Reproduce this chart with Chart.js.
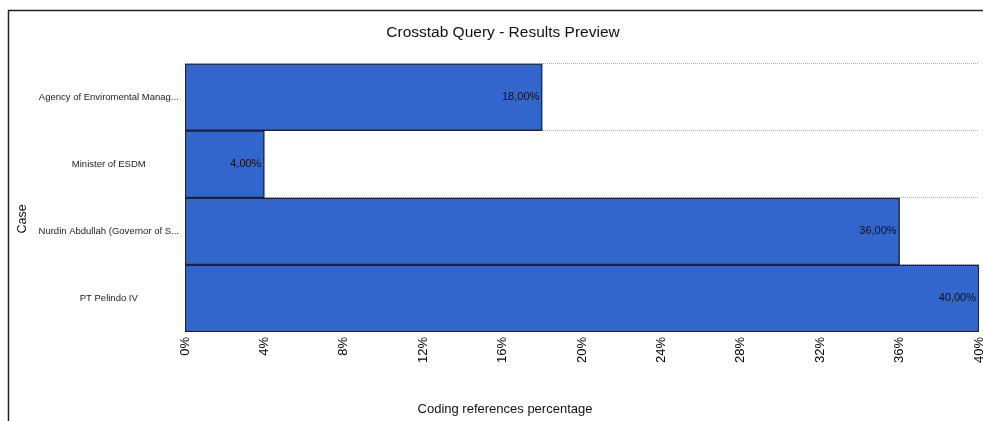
<!DOCTYPE html>
<html>
<head>
<meta charset="utf-8">
<script src="https://cdn.jsdelivr.net/npm/chart.js@4.4.0/dist/chart.umd.min.js"></script>
<style>
  html, body { margin: 0; padding: 0; background: #fff; }
  canvas { display: block; }
</style>
</head>
<body>
<canvas id="crosstabChart" width="983" height="421"></canvas>
<script>
const caseLabels = [
    'Agency of Enviromental Manag...',
    'Minister of ESDM',
    'Nurdin Abdullah (Governor of S...',
    'PT Pelindo IV'
];
const codingPercent = [18, 4, 36, 40];
const xTicksMax = 40;
const xTicksStep = 4;
const xAxisTitle = 'Coding references percentage';
const yAxisTitle = 'Case';

const FONT = "'Liberation Sans', Arial, sans-serif";

// outer frame, white background and the two axis titles
// (drawn by hand because they are centred on the frame, not the plot)
const framePlugin = {
    id: 'frame',
    beforeDraw(chart) {
        const ctx = chart.ctx;
        ctx.save();
        ctx.fillStyle = '#fff';
        ctx.fillRect(0, 0, chart.width, chart.height);
        ctx.strokeStyle = '#222';
        ctx.lineWidth = 1.5;
        ctx.beginPath();
        ctx.moveTo(8.5, chart.height);
        ctx.lineTo(8.5, 10.5);
        ctx.lineTo(chart.width, 10.5);
        ctx.stroke();
        ctx.restore();
    },
    afterDraw(chart) {
        const ctx = chart.ctx;
        ctx.save();
        ctx.fillStyle = '#111';
        ctx.textAlign = 'center';
        ctx.textBaseline = 'middle';
        ctx.font = '13px ' + FONT;
        ctx.fillText(xAxisTitle, 505, 409);
        ctx.translate(23, 219);
        ctx.rotate(-Math.PI / 2);
        ctx.font = '12.5px ' + FONT;
        ctx.fillText(yAxisTitle, 0, 0);
        ctx.restore();
    }
};

// value labels at the inner end of each bar
const valueLabels = {
    id: 'valueLabels',
    afterDatasetsDraw(chart) {
        const ctx = chart.ctx;
        const meta = chart.getDatasetMeta(0);
        ctx.save();
        ctx.font = '11px ' + FONT;
        ctx.fillStyle = '#111';
        ctx.textAlign = 'right';
        ctx.textBaseline = 'middle';
        meta.data.forEach((bar, i) => {
            const v = chart.data.datasets[0].data[i];
            const txt = v.toFixed(2).replace('.', ',') + '%';
            ctx.fillText(txt, bar.x - 3, bar.y);
        });
        ctx.restore();
    }
};

const ctx = document.getElementById('crosstabChart').getContext('2d');
window.crosstabChart = new Chart(ctx, {
    type: 'bar',
    data: {
        labels: caseLabels,
        datasets: [{
            data: codingPercent,
            backgroundColor: '#3366CC',
            borderColor: '#1c2333',
            borderWidth: 1.5,
            borderSkipped: false,
            categoryPercentage: 1,
            barPercentage: 1
        }]
    },
    options: {
        indexAxis: 'y',
        responsive: false,
        animation: false,
        layout: { padding: { left: 27, right: 4, top: 0, bottom: 0 } },
        plugins: {
            legend: { display: false },
            tooltip: { enabled: false },
            title: {
                display: true,
                text: 'Crosstab Query - Results Preview',
                color: '#111',
                font: { family: FONT, size: 15.5, weight: 'normal' },
                padding: { top: 23, bottom: 22 }
            }
        },
        scales: {
            x: {
                min: 0,
                max: xTicksMax,
                grid: { display: false },
                border: { display: false },
                ticks: {
                    stepSize: xTicksStep,
                    minRotation: 90,
                    maxRotation: 90,
                    padding: -3,
                    color: '#000',
                    font: { family: FONT, size: 13 },
                    callback: v => v + '%'
                },
                afterFit(scale) {
                    scale.height = 89;
                    scale.paddingLeft = 0;
                    scale.paddingRight = 0;
                }
            },
            y: {
                grid: {
                    display: true,
                    offset: true,
                    drawTicks: false,
                    color: '#aaa',
                    lineWidth: 1
                },
                border: { display: false, dash: [1, 1] },
                ticks: {
                    crossAlign: 'center',
                    padding: 6,
                    color: '#1a1a1a',
                    font: { family: FONT, size: 9.5 }
                },
                afterFit(scale) { scale.width = 158; }
            }
        }
    },
    plugins: [framePlugin, valueLabels]
});
</script>
</body>
</html>
